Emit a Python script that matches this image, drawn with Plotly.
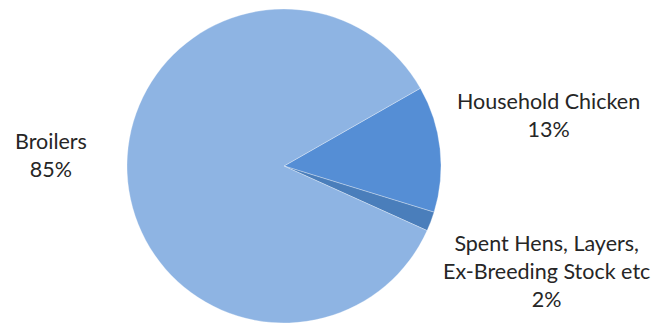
import plotly.graph_objects as go

categories = ["Household Chicken", "Spent Hens, Layers,<br>Ex-Breeding Stock etc", "Broilers"]
values = [13, 2, 85]
colors = ["#558ED5", "#4A7EBB", "#8EB4E3"]

W, H = 654, 324
cx, cy, r = 284, 166, 157

fig = go.Figure(go.Pie(
    labels=categories,
    values=values,
    sort=False,
    direction="clockwise",
    rotation=60.3,
    marker=dict(colors=colors, line=dict(color="rgba(255,255,255,0.6)", width=0.5)),
    textinfo="none",
    hoverinfo="label+percent",
    showlegend=False,
    domain=dict(x=[(cx - r) / W, (cx + r) / W], y=[(H - cy - r) / H, (H - cy + r) / H]),
))

label_pos = [(548, 115), (546, 271), (51, 155)]
font = dict(family="Lato, Carlito, Calibri, sans-serif", size=21.5, color="#262626")
annotations = []
for cat, val, (x, y) in zip(categories, values, label_pos):
    annotations.append(dict(
        text=f"{cat}<br>{val}%",
        x=x / W, y=1 - y / H, xref="paper", yref="paper",
        xanchor="center", yanchor="middle", showarrow=False,
        font=font, align="center",
    ))

fig.update_layout(
    width=W, height=H,
    margin=dict(l=0, r=0, t=0, b=0),
    paper_bgcolor="white", plot_bgcolor="white",
    annotations=annotations,
)

fig.write_html(
    "out.html",
    config={"displayModeBar": False},
    post_script="document.body.style.margin='0';document.body.style.overflow='hidden';",
)
